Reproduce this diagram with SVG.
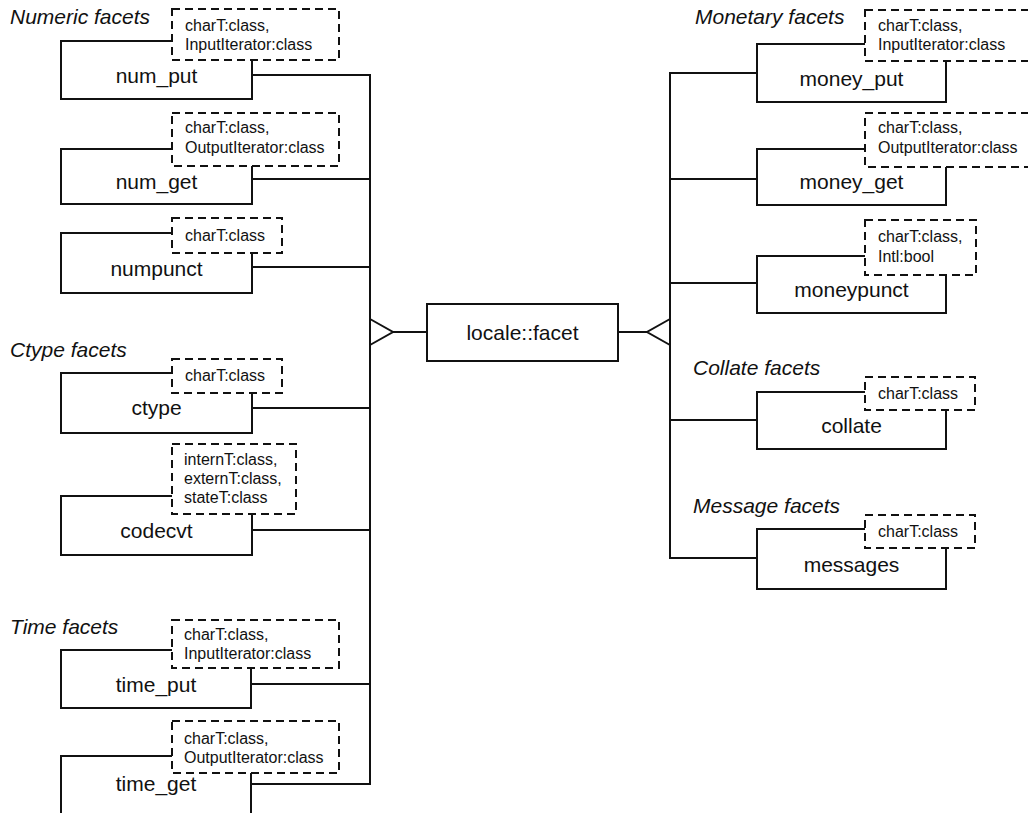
<svg xmlns="http://www.w3.org/2000/svg" width="1028" height="813" viewBox="0 0 1028 813">
<style>
.box{fill:#fff;stroke:#111;stroke-width:2}
.tpl{fill:#fff;stroke:#111;stroke-width:2;stroke-dasharray:8 5}
.conn{fill:none;stroke:#111;stroke-width:2}
.name{font-family:"Liberation Sans",Arial,sans-serif;font-size:21px;fill:#111;text-anchor:middle}
.par{font-family:"Liberation Sans",Arial,sans-serif;font-size:16px;fill:#111}
.grp{font-family:"Liberation Sans",Arial,sans-serif;font-size:21px;font-style:italic;fill:#111}
</style>
<rect width="1028" height="813" fill="#fff"/>
<g id="group-labels">
<text class="grp" x="10" y="24">Numeric facets</text>
<text class="grp" x="10" y="357">Ctype facets</text>
<text class="grp" x="10" y="634">Time facets</text>
<text class="grp" x="695" y="24">Monetary facets</text>
<text class="grp" x="693" y="375">Collate facets</text>
<text class="grp" x="693" y="513">Message facets</text>
</g>
<g id="connectors">
<line class="conn" x1="252" y1="75" x2="370" y2="75"/>
<line class="conn" x1="252" y1="179" x2="370" y2="179"/>
<line class="conn" x1="252" y1="267" x2="370" y2="267"/>
<line class="conn" x1="252" y1="408" x2="370" y2="408"/>
<line class="conn" x1="252" y1="530" x2="370" y2="530"/>
<line class="conn" x1="251" y1="684" x2="370" y2="684"/>
<line class="conn" x1="251" y1="784" x2="370" y2="784"/>
<line class="conn" x1="370" y1="74" x2="370" y2="785"/>
<polyline class="conn" points="370,319 393,332 370,345"/>
<line class="conn" x1="393" y1="332" x2="427" y2="332"/>
<line class="conn" x1="618" y1="332" x2="647" y2="332"/>
<polyline class="conn" points="670,319 647,332 670,345"/>
<line class="conn" x1="670" y1="72" x2="670" y2="559"/>
<line class="conn" x1="670" y1="73" x2="757" y2="73"/>
<line class="conn" x1="670" y1="179" x2="757" y2="179"/>
<line class="conn" x1="670" y1="283" x2="757" y2="283"/>
<line class="conn" x1="670" y1="420" x2="757" y2="420"/>
<line class="conn" x1="670" y1="558" x2="757" y2="558"/>
</g>
<g id="locale-facet">
<rect class="box" x="427" y="304" width="191" height="57"/>
<text class="name" x="522.5" y="340">locale::facet</text>
</g>
<g id="num_put">
<rect class="box" x="61" y="41" width="191" height="58"/>
<rect class="tpl" x="172" y="9" width="167" height="51"/>
<text class="par" x="185" y="31">charT:class,</text>
<text class="par" x="185" y="50">InputIterator:class</text>
<text class="name" x="156.5" y="83">num_put</text>
</g>
<g id="num_get">
<rect class="box" x="61" y="149" width="191" height="55"/>
<rect class="tpl" x="172" y="113" width="167" height="53"/>
<text class="par" x="185" y="133">charT:class,</text>
<text class="par" x="185" y="153">OutputIterator:class</text>
<text class="name" x="156.5" y="189">num_get</text>
</g>
<g id="numpunct">
<rect class="box" x="61" y="233" width="191" height="60"/>
<rect class="tpl" x="172" y="218" width="110" height="35"/>
<text class="par" x="185" y="241">charT:class</text>
<text class="name" x="156.5" y="276">numpunct</text>
</g>
<g id="ctype">
<rect class="box" x="61" y="373" width="191" height="60"/>
<rect class="tpl" x="172" y="359" width="110" height="34"/>
<text class="par" x="185" y="381">charT:class</text>
<text class="name" x="156.5" y="415">ctype</text>
</g>
<g id="codecvt">
<rect class="box" x="61" y="496" width="191" height="59"/>
<rect class="tpl" x="172" y="444" width="124" height="70"/>
<text class="par" x="184" y="465">internT:class,</text>
<text class="par" x="184" y="484">externT:class,</text>
<text class="par" x="184" y="503">stateT:class</text>
<text class="name" x="156.5" y="538">codecvt</text>
</g>
<g id="time_put">
<rect class="box" x="61" y="650" width="190" height="58"/>
<rect class="tpl" x="172" y="620" width="167" height="48"/>
<text class="par" x="184" y="640">charT:class,</text>
<text class="par" x="184" y="659">InputIterator:class</text>
<text class="name" x="156" y="692">time_put</text>
</g>
<g id="time_get">
<rect class="box" x="61" y="756" width="190" height="80"/>
<rect class="tpl" x="172" y="721" width="167" height="52"/>
<text class="par" x="184" y="744">charT:class,</text>
<text class="par" x="184" y="763">OutputIterator:class</text>
<text class="name" x="156" y="791">time_get</text>
</g>
<g id="money_put">
<rect class="box" x="757" y="44" width="189" height="58"/>
<rect class="tpl" x="865" y="10" width="180" height="51"/>
<text class="par" x="878" y="31">charT:class,</text>
<text class="par" x="878" y="50">InputIterator:class</text>
<text class="name" x="851.5" y="86">money_put</text>
</g>
<g id="money_get">
<rect class="box" x="757" y="149" width="189" height="56"/>
<rect class="tpl" x="865" y="113" width="180" height="54"/>
<text class="par" x="878" y="133">charT:class,</text>
<text class="par" x="878" y="153">OutputIterator:class</text>
<text class="name" x="851.5" y="189">money_get</text>
</g>
<g id="moneypunct">
<rect class="box" x="757" y="256" width="189" height="57"/>
<rect class="tpl" x="865" y="220" width="111" height="55"/>
<text class="par" x="878" y="242">charT:class,</text>
<text class="par" x="878" y="262">Intl:bool</text>
<text class="name" x="851.5" y="297">moneypunct</text>
</g>
<g id="collate">
<rect class="box" x="757" y="392" width="189" height="57"/>
<rect class="tpl" x="865" y="377" width="110" height="33"/>
<text class="par" x="878" y="399">charT:class</text>
<text class="name" x="851.5" y="433">collate</text>
</g>
<g id="messages">
<rect class="box" x="757" y="529" width="189" height="60"/>
<rect class="tpl" x="865" y="515" width="110" height="33"/>
<text class="par" x="878" y="537">charT:class</text>
<text class="name" x="851.5" y="572">messages</text>
</g>
</svg>
